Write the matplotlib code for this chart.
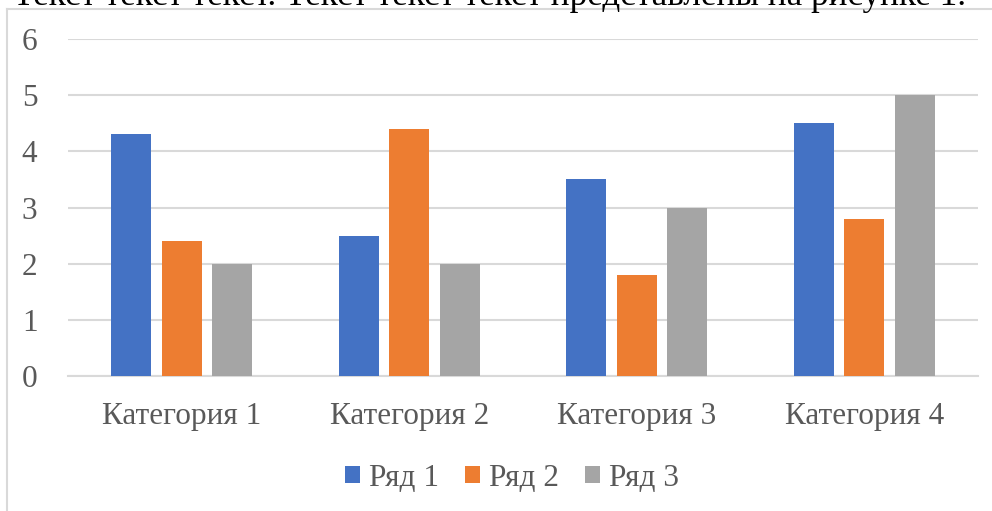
import matplotlib
import numpy as np

matplotlib.use("Agg")
import matplotlib.pyplot as plt  # noqa: E402
from matplotlib.lines import Line2D  # noqa: E402

categories = ["Категория 1", "Категория 2", "Категория 3", "Категория 4"]
series_names = ["Ряд 1", "Ряд 2", "Ряд 3"]
row1 = [4.3, 2.5, 3.5, 4.5]
row2 = [2.4, 4.4, 1.8, 2.8]
row3 = [2.0, 2.0, 3.0, 5.0]
y_ticks = [0, 1, 2, 3, 4, 5, 6]
header_text = "Текст текст текст. Текст текст текст представлены на рисунке 1."

COLORS = ["#4472C4", "#ED7D31", "#A5A5A5"]
TEXT_GRAY = "#595959"
GRID = "#D9D9D9"
W, H = 992, 511
FS = 22.5

plt.rcParams["font.family"] = ["Liberation Serif", "DejaVu Serif"]

fig = plt.figure(figsize=(W / 100, H / 100), dpi=100)

# clipped line of document text above the chart, and the chart frame
fig.text(13 / W, 1 - 5 / H, header_text, fontsize=25.3, color="black", ha="left", va="baseline")
fig.add_artist(Line2D([7 / W, 1], [1 - 9 / H, 1 - 9 / H], color=GRID, lw=1.5))
fig.add_artist(Line2D([7 / W, 7 / W], [0, 1 - 9 / H], color=GRID, lw=1.5))

ax = fig.add_axes([68 / W, 135 / H, 910 / W, 337 / H])
x = np.arange(len(categories))
width = 0.176
offset = 0.222
for i, values in enumerate([row1, row2, row3]):
    ax.bar(x + (i - 1) * offset, values, width, color=COLORS[i], label=series_names[i], zorder=3)

ax.set_xlim(-0.5, len(categories) - 0.5)
ax.set_ylim(0, 6)
ax.set_yticks(y_ticks)
ax.set_xticks(x, categories)
ax.grid(axis="y", color=GRID, lw=1.5, zorder=0)
for side in ["top", "right", "left"]:
    ax.spines[side].set_visible(False)
ax.spines["bottom"].set_color(GRID)
ax.spines["bottom"].set_linewidth(1.5)
ax.tick_params(length=0, colors=TEXT_GRAY, labelsize=FS)
ax.tick_params(axis="y", pad=22)
ax.tick_params(axis="x", pad=19)

fig.legend(loc="center", bbox_to_anchor=(512 / W, 1 - 478 / H), ncol=3, frameon=False,
           fontsize=FS, labelcolor=TEXT_GRAY, handlelength=0.5, handleheight=0.5,
           handletextpad=0.28, columnspacing=0.82)

fig.savefig("out.png", dpi=100)
